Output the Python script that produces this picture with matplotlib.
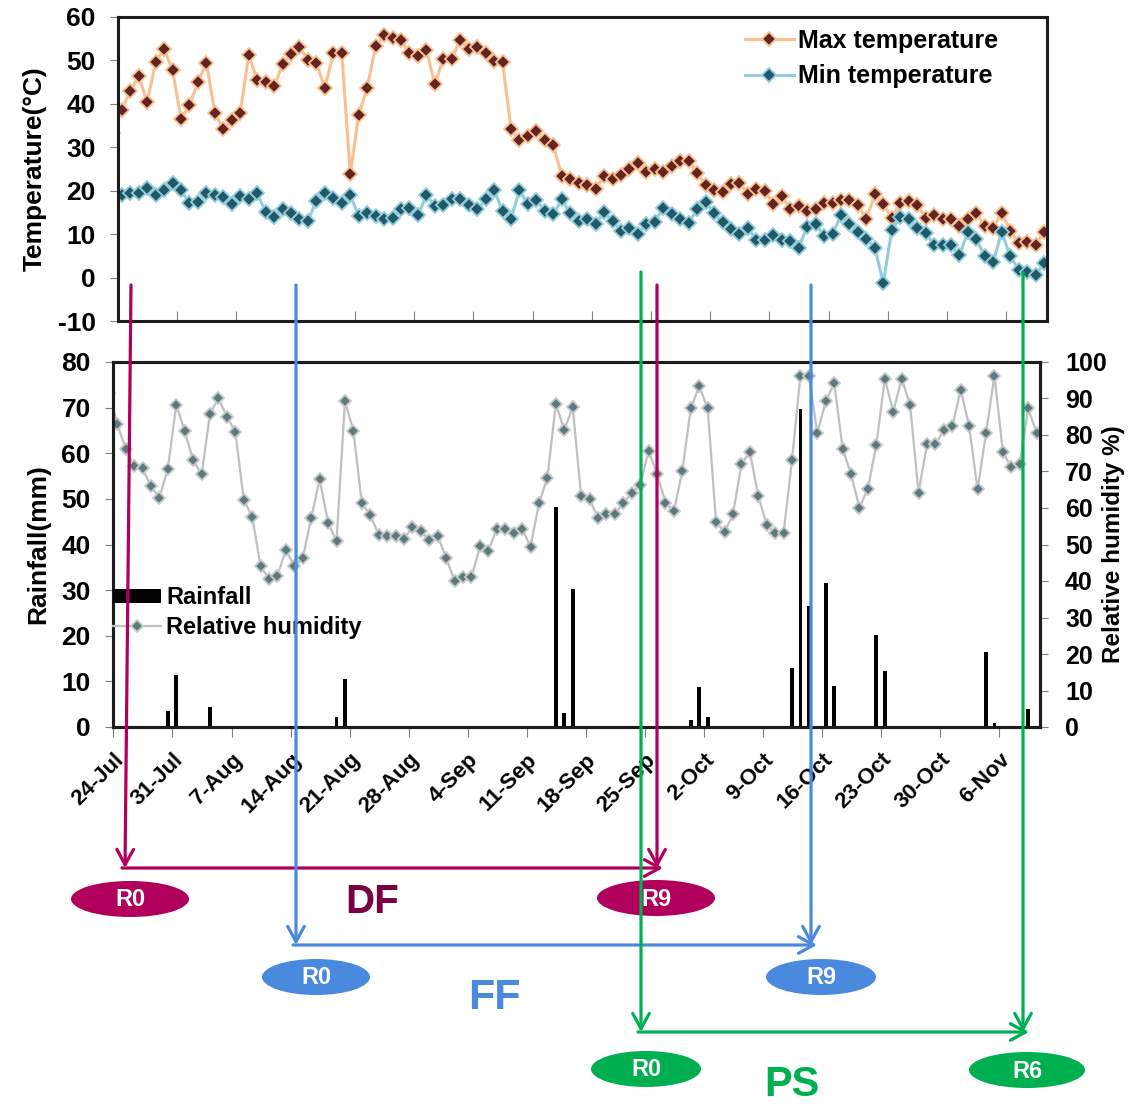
import numpy as np
import matplotlib
matplotlib.use('agg')
import matplotlib.pyplot as plt
from matplotlib.patches import Ellipse, FancyArrowPatch

# day offset from 24-Jul (first value is the day before, clipped by the axes)
days = np.arange(-1, 110)
week_ticks = np.arange(0, 110, 7)
tick_labels = ['24-Jul', '31-Jul', '7-Aug', '14-Aug', '21-Aug', '28-Aug', '4-Sep', '11-Sep',
               '18-Sep', '25-Sep', '2-Oct', '9-Oct', '16-Oct', '23-Oct', '30-Oct', '6-Nov']

tmax = [33.3, 38.7, 43.0, 46.3, 40.4, 49.6, 52.7, 47.7, 36.6, 39.7, 45.0,
        49.4, 37.9, 34.2, 36.2, 38.0, 51.2, 45.6, 45.0, 44.0, 49.1,
        51.4, 53.1, 50.2, 49.4, 43.7, 51.6, 51.6, 23.8, 37.5, 43.7,
        53.3, 55.8, 55.2, 54.6, 51.6, 51.0, 52.5, 44.5, 50.4, 50.4,
        54.8, 52.6, 53.0, 51.8, 49.9, 49.6, 34.3, 31.6, 32.5, 33.8,
        31.6, 30.5, 23.3, 22.8, 21.8, 21.3, 20.5, 23.4, 22.6, 23.6,
        25.1, 26.3, 24.4, 24.9, 24.4, 25.6, 26.9, 26.9, 24.1, 21.3,
        20.1, 19.7, 21.6, 21.8, 19.2, 20.3, 20.0, 16.9, 18.7, 15.9,
        16.4, 15.4, 15.7, 17.2, 17.2, 17.8, 17.8, 16.7, 13.4, 19.2,
        16.9, 13.8, 17.2, 17.7, 16.7, 13.8, 14.4, 13.6, 13.6, 11.8,
        13.4, 14.9, 11.8, 11.5, 14.9, 10.8, 7.9, 8.3, 7.5, 10.5]

tmin = [19.0, 19.0, 19.4, 19.5, 20.7, 19.0, 20.1, 21.7, 20.1, 17.1, 17.4,
        19.4, 19.0, 18.6, 16.9, 18.7, 18.2, 19.4, 15.1, 14.0, 15.9,
        14.9, 13.4, 13.1, 17.7, 19.5, 18.4, 17.2, 19.0, 14.2, 14.9,
        14.2, 13.6, 13.8, 15.7, 16.0, 14.3, 19.0, 16.4, 16.7, 18.2,
        18.0, 16.7, 15.7, 18.0, 20.1, 15.4, 13.6, 20.1, 16.9, 17.8,
        15.4, 14.6, 18.0, 14.8, 13.1, 13.4, 12.4, 15.1, 13.1, 10.8,
        11.5, 10.0, 12.4, 12.8, 16.1, 14.6, 13.6, 12.6, 15.7, 17.5,
        14.8, 12.8, 11.1, 10.0, 11.5, 8.6, 8.6, 9.8, 8.6, 8.5,
        6.9, 11.7, 12.4, 9.5, 10.0, 14.4, 12.4, 10.5, 8.8, 6.9,
        -1.3, 10.9, 13.9, 13.4, 11.3, 10.3, 7.4, 7.4, 7.4, 5.2,
        10.5, 8.8, 4.9, 3.6, 10.5, 4.9, 1.8, 1.3, 0.6, 3.3]

rh = [91.6, 83.0, 76.3, 71.4, 70.9, 65.9, 62.8, 70.8, 88.3, 81.1, 73.1,
      69.2, 85.8, 90.1, 85.0, 80.9, 62.2, 57.6, 44.0, 40.6, 41.5,
      48.6, 44.0, 46.3, 57.3, 67.9, 56.0, 50.9, 89.4, 81.1, 61.3,
      58.0, 52.7, 52.3, 52.3, 51.6, 54.8, 53.7, 51.2, 52.3, 46.3,
      39.9, 41.0, 41.0, 49.5, 48.3, 54.3, 54.3, 53.2, 54.3, 49.4,
      61.3, 68.3, 88.5, 81.4, 87.6, 63.3, 62.4, 57.3, 58.4, 58.4,
      61.3, 64.2, 66.2, 75.7, 69.3, 61.5, 59.2, 70.2, 87.3, 93.4,
      87.3, 56.1, 53.4, 58.3, 72.0, 75.4, 63.3, 55.3, 53.2, 53.2,
      73.2, 96.3, 96.3, 80.5, 89.2, 94.3, 76.3, 69.2, 60.1, 65.3,
      77.3, 95.4, 86.4, 95.4, 88.3, 64.2, 77.4, 77.4, 81.4, 82.4,
      92.4, 82.4, 65.1, 80.5, 96.3, 75.4, 71.1, 72.0, 87.3, 80.5]

rain = [0, 0, 0, 0, 0, 0, 0, 3.4, 11.4, 0, 0,
        0, 4.4, 0, 0, 0, 0, 0.3, 0, 0, 0,
        0, 0, 0, 0, 0.3, 0, 2.3, 10.5, 0, 0,
        0, 0, 0, 0, 0, 0, 0, 0, 0, 0,
        0, 0, 0, 0, 0, 0, 0, 0, 0, 0,
        0, 0, 48.3, 3.1, 30.2, 0, 0, 0, 0, 0,
        0, 0, 0, 0, 0, 0, 0, 0, 1.6, 8.7,
        2.3, 0, 0, 0, 0, 0, 0, 0, 0, 0,
        13.0, 69.8, 26.6, 0, 31.5, 9.0, 0, 0, 0, 0,
        20.1, 12.3, 0, 0.2, 0, 0.2, 0, 0.2, 0, 0.2,
        0, 0.2, 0, 16.4, 0.9, 0, 0, 0, 4.0, 0]

W, H = 1148, 1105
plt.rcParams['font.family'] = ['Liberation Sans', 'DejaVu Sans']
plt.rcParams['font.weight'] = 'bold'
plt.rcParams['axes.labelweight'] = 'bold'
plt.rcParams['axes.unicode_minus'] = False

fig = plt.figure(figsize=(W / 100, H / 100), dpi=100)


def box(l, t, r, b):
    return [l / W, 1 - b / H, (r - l) / W, (b - t) / H]


def frame(ax):
    for s in ax.spines.values():
        s.set_linewidth(2.2)
        s.set_color('#1c1c1c')


# ---- temperature panel
ax1 = fig.add_axes(box(118, 17, 1047, 321))
ax1.plot(days, tmax, color='#fac090', lw=2.2, marker='D', ms=6.8,
         mfc='#632523', mec='#fac090', mew=1.3, label='Max temperature')
ax1.plot(days, tmin, color='#92cddc', lw=2.2, marker='D', ms=6.8,
         mfc='#215968', mec='#92cddc', mew=1.3, label='Min temperature')
ax1.set_xlim(-0.4, 109.35)
ax1.set_ylim(-10, 60)
ax1.set_yticks(range(-10, 61, 10))
ax1.set_xticks(week_ticks - 0.45)
ax1.tick_params(axis='x', direction='in', length=7, color='#808080', labelbottom=False)
ax1.tick_params(axis='y', direction='out', length=6, color='#808080', labelsize=19, pad=10)
ax1.set_ylabel('Temperature(°C)', fontsize=19)
ax1.yaxis.set_label_coords(-71 / 929, 0.5)
frame(ax1)
ax1.legend(loc='upper left', bbox_to_anchor=(745 / W, 1 - 29 / H), bbox_transform=fig.transFigure,
           frameon=False, fontsize=18, handlelength=1.95, handletextpad=0.15,
           borderpad=0, borderaxespad=0, labelspacing=0.45)

# ---- rainfall / humidity panel
ax2 = fig.add_axes(box(113, 362, 1040, 727))
ax2.bar(days, rain, width=0.45, color='black', label='Rainfall')
ax2.set_xlim(-0.5, 109.4)
ax2.set_ylim(0, 80)
ax2.set_yticks(range(0, 81, 10))
ax2.set_xticks(week_ticks - 0.45)
ax2.set_xticklabels(tick_labels, rotation=45, ha='right', va='top', rotation_mode='anchor')
ax2.tick_params(axis='x', direction='out', length=7, color='#808080', labelsize=16, pad=9)
ax2.tick_params(axis='y', direction='out', length=6, color='#808080', labelsize=19, pad=10)
ax2.set_ylabel('Rainfall(mm)', fontsize=19)
ax2.yaxis.set_label_coords(-63 / 927, 0.5)

ax3 = ax2.twinx()
ax3.plot(days, rh, color='#bfbfbf', lw=1.6, marker='D', ms=6.5,
         mfc='#5b7a80', mec='#c8c8c8', mew=1.3, label='Relative humidity')
ax3.set_ylim(0, 100)
ax3.set_yticks(range(0, 101, 10))
ax3.tick_params(axis='y', direction='out', length=6, color='#808080', labelsize=18, pad=12)
ax3.set_ylabel('Relative humidity %)', fontsize=17.5, rotation=90)
ax3.yaxis.set_label_coords(1 + 62 / 927, 0.5)
frame(ax2)
frame(ax3)
h2, l2 = ax2.get_legend_handles_labels()
h3, l3 = ax3.get_legend_handles_labels()
ax3.legend(h2 + h3, l2 + l3, loc='upper left', bbox_to_anchor=(113 / W, 1 - 586 / H),
           bbox_transform=fig.transFigure, frameon=False, fontsize=17, handlelength=2.05,
           handleheight=0.55, handletextpad=0.2, borderpad=0, borderaxespad=0, labelspacing=0.3)

# ---- growth stage annotations (pixel layout on an overlay)
ov = fig.add_axes([0, 0, 1, 1], zorder=10)
ov.set_xlim(0, W)
ov.set_ylim(H, 0)
ov.axis('off')
ov.patch.set_visible(False)

stages = [
    # colour, text colour, name, start x (top, bottom), end x, start y, level y, end labels, name pos, size
    ('#b0005b', '#7a0042', 'DF', (131, 125), 657, 285, 868, ('R0', 'R9'), (372, 902), 29),
    ('#4a8ade', '#4a8ade', 'FF', (296, 296), 811, 285, 945, ('R0', 'R9'), (494, 998), 31),
    ('#00b050', '#00b050', 'PS', (641, 641), 1023, 272, 1032, ('R0', 'R6'), (792, 1085), 30),
]
ell_pos = {'DF': [(130, 899, 118), (656, 898, 118)],
           'FF': [(316, 977, 108), (821, 977, 110)],
           'PS': [(646, 1069, 110), (1027, 1070, 116)]}
astyle = '->,head_length=0.55,head_width=0.3'
for col, tcol, name, (x0t, x0b), x1, y0, ylev, labs, (tx, ty), fs in stages:
    for (cx, cy, ew), lab in zip(ell_pos[name], labs):
        ov.add_patch(Ellipse((cx, cy), ew, 36, facecolor=col, edgecolor='none', zorder=2))
        ov.text(cx, cy + 1, lab, color='white', fontsize=17, fontweight='bold',
                ha='center', va='center', zorder=3)
    for a, b in [((x0t, y0), (x0b, ylev)), ((x0b - 3, ylev), (x1 + 6, ylev)), ((x1, y0), (x1, ylev))]:
        ov.add_patch(FancyArrowPatch(a, b, arrowstyle=astyle, mutation_scale=20, color=col,
                                     lw=2.3, shrinkA=0, shrinkB=0, zorder=4))
    ov.text(tx, ty, name, color=tcol, fontsize=fs, fontweight='bold',
            ha='center', va='center', zorder=3)

fig.savefig('out.png', dpi=100)
